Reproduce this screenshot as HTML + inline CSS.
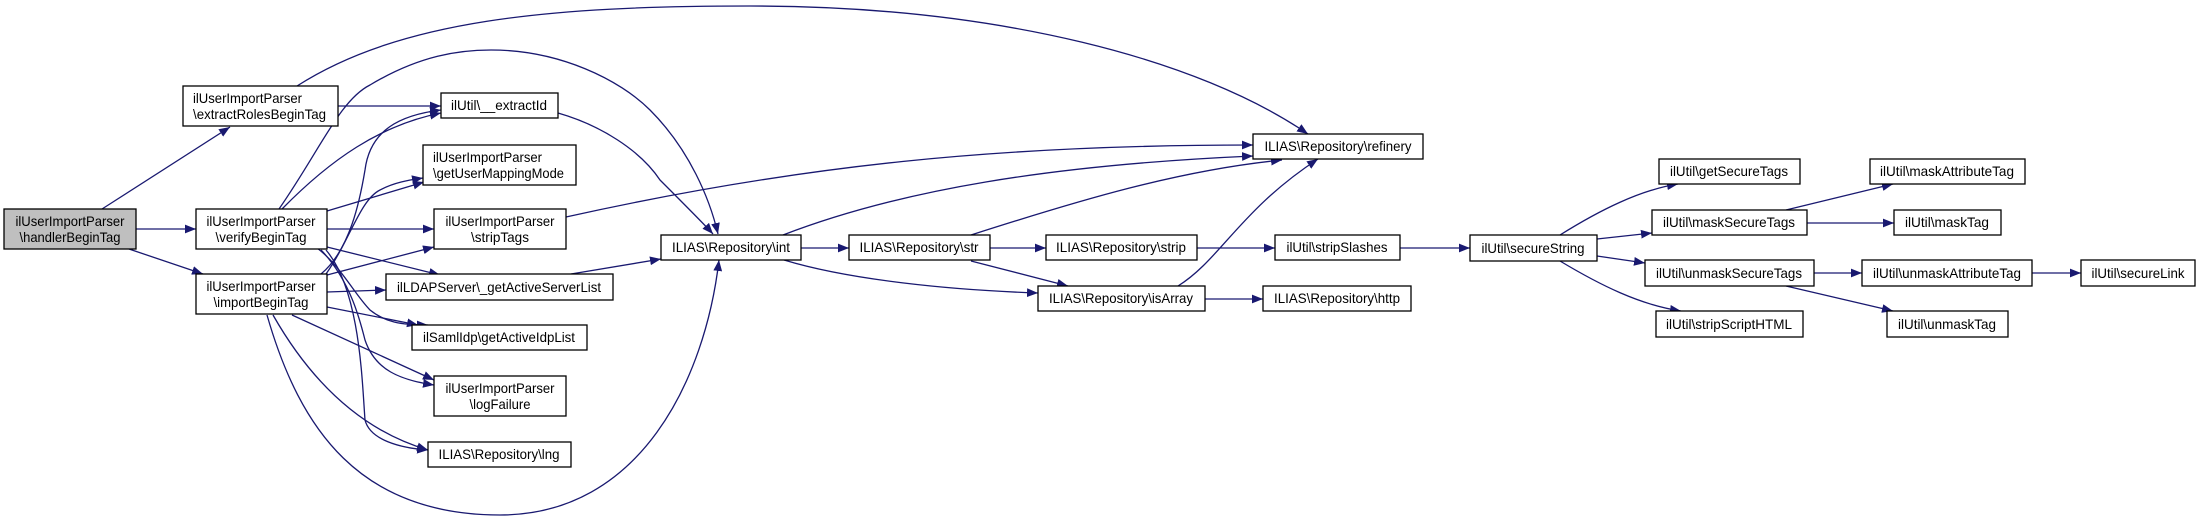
<!DOCTYPE html>
<html><head><meta charset="utf-8"><style>
html,body{margin:0;padding:0;background:#fff}
svg{display:block}
text{font-family:"Liberation Sans",sans-serif;font-size:14px;fill:#000}
.e{fill:none;stroke:#191970;stroke-width:1.3}
.n{fill:#fff;stroke:#000;stroke-width:1.3}
</style></head><body>
<svg width="2197" height="526" viewBox="0 0 2197 526" xmlns="http://www.w3.org/2000/svg">
<defs><marker id="a" viewBox="0 0 10 8" refX="10" refY="4" markerWidth="11" markerHeight="9" markerUnits="userSpaceOnUse" orient="auto"><path d="M0,0L10,4L0,8z" fill="#191970"/></marker></defs>
<g class="e" marker-end="url(#a)">
<path d="M102,209L230,127"/>
<path d="M136,229L196,229"/>
<path d="M129,249L203,274"/>
<path d="M338,106L441,106"/>
<path d="M297,86C400,20 550,6 750,6C1000,6 1200,60 1308,134"/>
<path d="M279,209C320,150 340,100 370,85C420,55 460,50 491,50C560,50 620,80 650,110C690,150 710,200 718,234"/>
<path d="M558,113C600,125 640,150 660,180C690,210 705,225 713,234"/>
<path d="M282,209C330,160 380,125 441,113"/>
<path d="M321,274C350,250 360,200 365,170C370,130 400,115 441,110"/>
<path d="M327,211L424,182"/>
<path d="M327,229L434,229"/>
<path d="M327,247L440,275"/>
<path d="M317,248C340,265 355,295 370,310C385,322 400,325 428,325"/>
<path d="M321,250C350,280 360,320 365,340C375,370 400,380 434,385"/>
<path d="M326,250C360,290 362,380 365,420C370,440 400,448 428,450"/>
<path d="M326,274C350,240 360,200 380,190C395,182 410,180 423,178"/>
<path d="M327,275L434,247"/>
<path d="M327,292L386,290"/>
<path d="M327,307L418,325"/>
<path d="M292,315L434,380"/>
<path d="M273,315C310,380 360,430 428,450"/>
<path d="M267,315C300,430 360,515 500,515C640,515 705,380 719,260"/>
<path d="M566,217C800,165 1000,145 1253,145"/>
<path d="M783,235C900,190 1050,165 1253,156"/>
<path d="M971,235C1080,200 1180,170 1282,160"/>
<path d="M571,274L661,259"/>
<path d="M801,248L849,248"/>
<path d="M784,260C850,280 950,290 1038,293"/>
<path d="M990,248L1046,248"/>
<path d="M971,261L1068,286"/>
<path d="M1178,286C1220,260 1240,210 1318,159"/>
<path d="M1205,299L1263,299"/>
<path d="M1197,248L1275,248"/>
<path d="M1400,248L1470,248"/>
<path d="M1560,235C1600,210 1640,190 1678,184"/>
<path d="M1597,239L1652,233"/>
<path d="M1597,256L1645,263"/>
<path d="M1560,261C1600,285 1640,305 1681,311"/>
<path d="M1786,210L1893,184"/>
<path d="M1807,223L1894,223"/>
<path d="M1814,273L1862,273"/>
<path d="M2032,273L2081,273"/>
<path d="M1786,286L1893,311"/>
</g>
<g>
<rect x="4" y="209" width="132" height="40" fill="#bfbfbf" stroke="#000" stroke-width="1.3"/>
<text x="70" y="226" text-anchor="middle" textLength="109" lengthAdjust="spacingAndGlyphs">ilUserImportParser</text>
<text x="70" y="242" text-anchor="middle" textLength="101" lengthAdjust="spacingAndGlyphs">\handlerBeginTag</text>

<rect class="n" x="183" y="86" width="155" height="40"/>
<text x="193" y="103" textLength="109" lengthAdjust="spacingAndGlyphs">ilUserImportParser</text>
<text x="193" y="119" textLength="133" lengthAdjust="spacingAndGlyphs">\extractRolesBeginTag</text>

<rect class="n" x="196" y="209" width="131" height="40"/>
<text x="261" y="226" text-anchor="middle" textLength="109" lengthAdjust="spacingAndGlyphs">ilUserImportParser</text>
<text x="261" y="242" text-anchor="middle" textLength="91" lengthAdjust="spacingAndGlyphs">\verifyBeginTag</text>

<rect class="n" x="196" y="274" width="131" height="40"/>
<text x="261" y="291" text-anchor="middle" textLength="109" lengthAdjust="spacingAndGlyphs">ilUserImportParser</text>
<text x="261" y="307" text-anchor="middle" textLength="95" lengthAdjust="spacingAndGlyphs">\importBeginTag</text>

<rect class="n" x="441" y="93" width="117" height="25"/>
<text x="499" y="110" text-anchor="middle" textLength="96" lengthAdjust="spacingAndGlyphs">ilUtil\__extractId</text>

<rect class="n" x="423" y="145" width="153" height="40"/>
<text x="433" y="162" textLength="109" lengthAdjust="spacingAndGlyphs">ilUserImportParser</text>
<text x="433" y="178" textLength="131" lengthAdjust="spacingAndGlyphs">\getUserMappingMode</text>

<rect class="n" x="434" y="209" width="132" height="40"/>
<text x="500" y="226" text-anchor="middle" textLength="109" lengthAdjust="spacingAndGlyphs">ilUserImportParser</text>
<text x="500" y="242" text-anchor="middle" textLength="58" lengthAdjust="spacingAndGlyphs">\stripTags</text>

<rect class="n" x="386" y="274" width="227" height="26"/>
<text x="499" y="292" text-anchor="middle" textLength="204" lengthAdjust="spacingAndGlyphs">ilLDAPServer\_getActiveServerList</text>

<rect class="n" x="412" y="325" width="175" height="25"/>
<text x="499" y="342" text-anchor="middle" textLength="152" lengthAdjust="spacingAndGlyphs">ilSamlIdp\getActiveIdpList</text>

<rect class="n" x="434" y="376" width="132" height="40"/>
<text x="500" y="393" text-anchor="middle" textLength="109" lengthAdjust="spacingAndGlyphs">ilUserImportParser</text>
<text x="500" y="409" text-anchor="middle" textLength="61" lengthAdjust="spacingAndGlyphs">\logFailure</text>

<rect class="n" x="428" y="442" width="143" height="25"/>
<text x="499" y="459" text-anchor="middle" textLength="121" lengthAdjust="spacingAndGlyphs">ILIAS\Repository\lng</text>

<rect class="n" x="661" y="235" width="140" height="25"/>
<text x="731" y="252" text-anchor="middle" textLength="118" lengthAdjust="spacingAndGlyphs">ILIAS\Repository\int</text>

<rect class="n" x="849" y="235" width="141" height="25"/>
<text x="919" y="252" text-anchor="middle" textLength="119" lengthAdjust="spacingAndGlyphs">ILIAS\Repository\str</text>

<rect class="n" x="1046" y="235" width="151" height="25"/>
<text x="1121" y="252" text-anchor="middle" textLength="130" lengthAdjust="spacingAndGlyphs">ILIAS\Repository\strip</text>

<rect class="n" x="1275" y="235" width="125" height="25"/>
<text x="1337" y="252" text-anchor="middle" textLength="101" lengthAdjust="spacingAndGlyphs">ilUtil\stripSlashes</text>

<rect class="n" x="1038" y="286" width="167" height="25"/>
<text x="1121" y="303" text-anchor="middle" textLength="144" lengthAdjust="spacingAndGlyphs">ILIAS\Repository\isArray</text>

<rect class="n" x="1263" y="286" width="148" height="25"/>
<text x="1337" y="303" text-anchor="middle" textLength="126" lengthAdjust="spacingAndGlyphs">ILIAS\Repository\http</text>

<rect class="n" x="1253" y="134" width="170" height="25"/>
<text x="1338" y="151" text-anchor="middle" textLength="147" lengthAdjust="spacingAndGlyphs">ILIAS\Repository\refinery</text>

<rect class="n" x="1470" y="235" width="127" height="26"/>
<text x="1533" y="253" text-anchor="middle" textLength="103" lengthAdjust="spacingAndGlyphs">ilUtil\secureString</text>

<rect class="n" x="1659" y="159" width="141" height="25"/>
<text x="1729" y="176" text-anchor="middle" textLength="118" lengthAdjust="spacingAndGlyphs">ilUtil\getSecureTags</text>

<rect class="n" x="1652" y="210" width="155" height="25"/>
<text x="1729" y="227" text-anchor="middle" textLength="132" lengthAdjust="spacingAndGlyphs">ilUtil\maskSecureTags</text>

<rect class="n" x="1645" y="260" width="169" height="26"/>
<text x="1729" y="278" text-anchor="middle" textLength="146" lengthAdjust="spacingAndGlyphs">ilUtil\unmaskSecureTags</text>

<rect class="n" x="1656" y="311" width="147" height="26"/>
<text x="1729" y="329" text-anchor="middle" textLength="126" lengthAdjust="spacingAndGlyphs">ilUtil\stripScriptHTML</text>

<rect class="n" x="1870" y="159" width="155" height="25"/>
<text x="1947" y="176" text-anchor="middle" textLength="134" lengthAdjust="spacingAndGlyphs">ilUtil\maskAttributeTag</text>

<rect class="n" x="1894" y="210" width="107" height="25"/>
<text x="1947" y="227" text-anchor="middle" textLength="84" lengthAdjust="spacingAndGlyphs">ilUtil\maskTag</text>

<rect class="n" x="1862" y="260" width="170" height="26"/>
<text x="1947" y="278" text-anchor="middle" textLength="148" lengthAdjust="spacingAndGlyphs">ilUtil\unmaskAttributeTag</text>

<rect class="n" x="2081" y="260" width="114" height="26"/>
<text x="2138" y="278" text-anchor="middle" textLength="93" lengthAdjust="spacingAndGlyphs">ilUtil\secureLink</text>

<rect class="n" x="1887" y="311" width="121" height="26"/>
<text x="1947" y="329" text-anchor="middle" textLength="98" lengthAdjust="spacingAndGlyphs">ilUtil\unmaskTag</text>
</g>
</svg>
</body></html>
